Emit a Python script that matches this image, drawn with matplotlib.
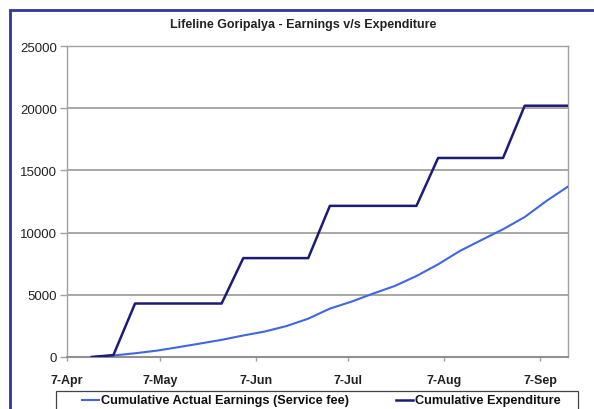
import matplotlib
matplotlib.use("Agg")
import matplotlib.pyplot as plt
from matplotlib.patches import Rectangle
from matplotlib.lines import Line2D
import datetime as dt

plt.rcParams['font.family'] = ['Liberation Sans', 'DejaVu Sans']

title = "Lifeline Goripalya - Earnings v/s Expenditure"
dates = ["2007-04-15", "2007-04-22", "2007-04-29", "2007-05-06", "2007-05-13",
         "2007-05-20", "2007-05-27", "2007-06-03", "2007-06-10", "2007-06-17",
         "2007-06-24", "2007-07-01", "2007-07-08", "2007-07-15", "2007-07-22",
         "2007-07-29", "2007-08-05", "2007-08-12", "2007-08-19", "2007-08-26",
         "2007-09-02", "2007-09-09", "2007-09-16"]
earnings = [0, 120, 300, 510, 790, 1080, 1380, 1730, 2050, 2490, 3080, 3890,
            4450, 5100, 5710, 6510, 7450, 8520, 9400, 10270, 11250, 12540, 13700]
expenditure = [0, 150, 4300, 4300, 4300, 4300, 4300, 7950, 7950, 7950, 7950,
               12150, 12150, 12150, 12150, 12150, 16000, 16000, 16000, 16000,
               20200, 20200, 20200]
series_names = ["Cumulative Actual Earnings (Service fee)", "Cumulative Expenditure"]
x_ticks = ["2007-04-07", "2007-05-07", "2007-06-07", "2007-07-07", "2007-08-07", "2007-09-07"]
x_tick_labels = ["7-Apr", "7-May", "7-Jun", "7-Jul", "7-Aug", "7-Sep"]
y_ticks = [0, 5000, 10000, 15000, 20000, 25000]

to_d = lambda s: dt.datetime.strptime(s, "%Y-%m-%d")
xd = [to_d(s) for s in dates]

W, H = 594, 410
fig = plt.figure(figsize=(W/100, H/100), dpi=100)
fig.patch.set_facecolor("white")
ax = fig.add_axes([67/W, 1-358/H, (568-67)/W, (358-47)/H])

earn_c = "#3f67e3"
exp_c = "#1c1c78"
ax.plot(xd, earnings, color=earn_c, lw=1.5, zorder=3)
ax.plot(xd, expenditure, color=exp_c, lw=1.8, zorder=4)

ax.set_xlim(to_d("2007-04-07"), to_d("2007-09-16"))
ax.set_ylim(0, 25000)
ax.set_yticks(y_ticks)
ax.set_yticklabels([str(v) for v in y_ticks], fontsize=9.5, color="#222222")
ax.set_xticks([to_d(s) for s in x_ticks])
ax.set_xticklabels(x_tick_labels, fontsize=9, fontweight="bold", color="#222222")
ax.yaxis.grid(True, color="#a0a0a0", lw=1.3)
ax.set_axisbelow(True)
for s in ["top", "right", "left", "bottom"]:
    ax.spines[s].set_color("#a0a0a0")
    ax.spines[s].set_linewidth(1.0)
ax.spines["bottom"].set_color("#909090")
ax.spines["bottom"].set_linewidth(1.5)
ax.tick_params(axis="y", length=5, width=1, color="#a0a0a0", pad=2)
ax.tick_params(axis="x", length=3, width=1, color="#a0a0a0", pad=9)

fig.text(303/W, 1-25/H, title, ha="center", va="center", fontsize=9, fontweight="bold", color="#222222")

# legend drawn manually (Excel-style bottom legend)
fig.add_artist(Rectangle((56/W, 1-420/H), (578-56)/W, (420-392)/H, transform=fig.transFigure,
                         fill=False, edgecolor="#444444", lw=0.9, clip_on=False))
ly = 1-401/H
fig.add_artist(Line2D([82/W, 99/W], [ly, ly], transform=fig.transFigure, color=earn_c, lw=1.5))
fig.text(101/W, ly, series_names[0], ha="left", va="center", fontsize=9.2, fontweight="bold", color="#111111")
fig.add_artist(Line2D([396/W, 413/W], [ly, ly], transform=fig.transFigure, color=exp_c, lw=1.8))
fig.text(415/W, ly, series_names[1], ha="left", va="center", fontsize=9.2, fontweight="bold", color="#111111")

# outer border (dark blue frame)
fig.add_artist(Rectangle((10/W, -0.05), 1.0, 1-11/H+0.05, transform=fig.transFigure,
                         fill=False, edgecolor="#33339a", lw=2.0, clip_on=False))

fig.savefig("out.png", dpi=100, facecolor="white")
